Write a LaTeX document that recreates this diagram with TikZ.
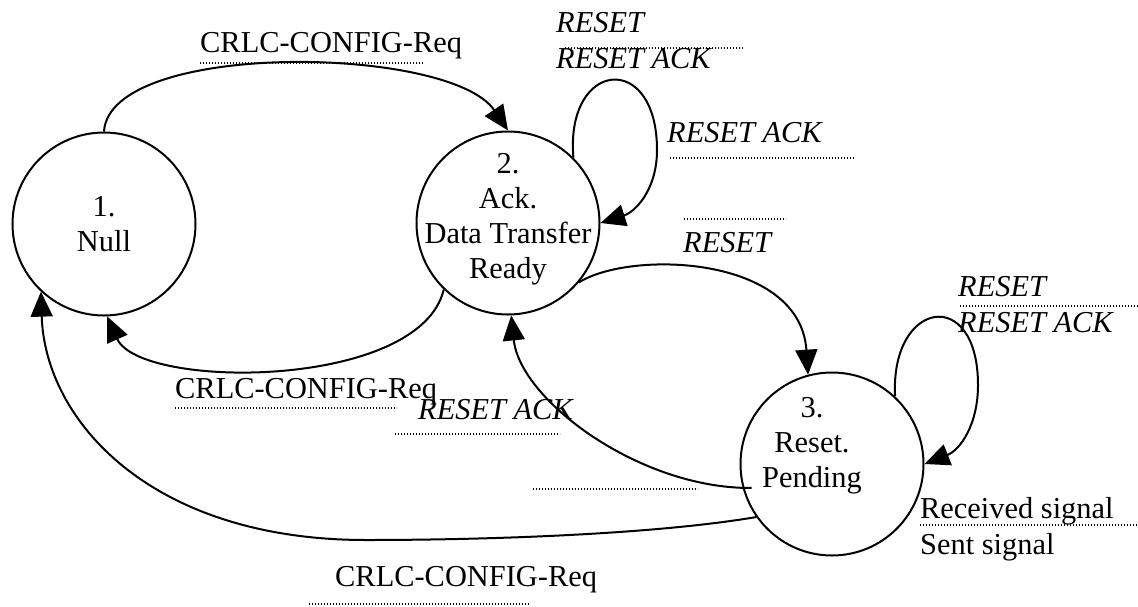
\documentclass[tikz,border=0pt]{standalone}
\usepackage{fontspec}
\setmainfont{Liberation Serif}
\usetikzlibrary{arrows.meta}

\newcommand{\sigfont}{\fontsize{30.4}{35}\selectfont}

\begin{document}
\begin{tikzpicture}[x=1pt, y=-1pt, font=\sigfont,
		state/.style={circle, draw, line width=2pt, minimum size=183pt, inner sep=0pt},
		trans/.style={line width=2pt, -{Triangle[length=25pt, width=22pt]}},
		sig/.style={anchor=base west, inner sep=0pt},
		sigit/.style={sig, font=\sigfont\itshape},
		sep/.style={line width=1.3pt, dash pattern=on 1.3pt off 1.7pt}]

		\useasboundingbox (0,0) rectangle (1138,606);

		% states
		\node [state] (s1) at (104,224) {};
		\node [state] (s2) at (508,223) {};
		\node [state] (s3) at (832,464) {};
		\node [align=center] (t1) at (104,224) {1.\\Null};
		\node [align=center] (t2) at (508,219) {2.\\Ack.\\Data Transfer\\Ready};
		\node [align=center] (t3) at (812,446) {3.\\Reset.\\Pending};

		% transitions
		\draw [trans] (s1.north) .. controls (110,40) and (450,45) .. (s2.north);
		\draw [trans] (s2.45) .. controls (565,60) and (657,50) .. (657,150) .. controls (657,190) and (635,212) .. (s2.east);
		\draw [trans] (s2.-40) .. controls (630,250) and (800,255) .. (s3.105);
		\draw [trans] (s3.47) .. controls (890,300) and (978,285) .. (978,385) .. controls (978,425) and (960,450) .. (s3.east);
		\draw [trans] ([xshift=9pt]s3.195) .. controls (640,489) and (520,400) .. (s2.-88);
		\draw [trans] (s2.-134) .. controls (420,390) and (140,390) .. (s1.-88);
		\draw [trans] (s3.215) .. controls (650,535) and (480,540) .. (366,540) .. controls (150,540) and (45,420) .. (s1.-133);

		% signals
		\node [sig] (req1) at (200,52) {CRLC-CONFIG-Req};
		\draw [sep] (200,63) -- (424,63);
		\node [sigit] (rst1) at (556,32) {RESET};
		\draw [sep] (565,48) -- (743,48);
		\node [sigit] (ack1) at (556,68) {RESET ACK};
		\node [sigit] (ack2) at (667,142) {RESET ACK};
		\draw [sep] (670,158) -- (855,158);
		\draw [sep] (684,219) -- (786,219);
		\node [sigit] (rst2) at (683,252) {RESET};
		\node [sig] (req2) at (175,398) {CRLC-CONFIG-Req};
		\draw [sep] (175,408) -- (397,408);
		\node [sigit] (ack3) at (418,419) {RESET ACK};
		\draw [sep] (395,434) -- (560,434);
		\draw [sep] (533,489) -- (698,489);
		\node [sig] (req3) at (335,586) {CRLC-CONFIG-Req};
		\draw [sep] (309,604) -- (530,604);
		\node [sigit] (rst3) at (958,296) {RESET};
		\draw [sep] (960,306) -- (1138,306);
		\node [sigit] (ack4) at (958,332) {RESET ACK};

		% legend
		\node [sig] (recv) at (920,518) {Received signal};
		\draw [sep] (920,525) -- (1138,525);
		\node [sig] (sent) at (920,554) {Sent signal};

	\end{tikzpicture}
\end{document}
